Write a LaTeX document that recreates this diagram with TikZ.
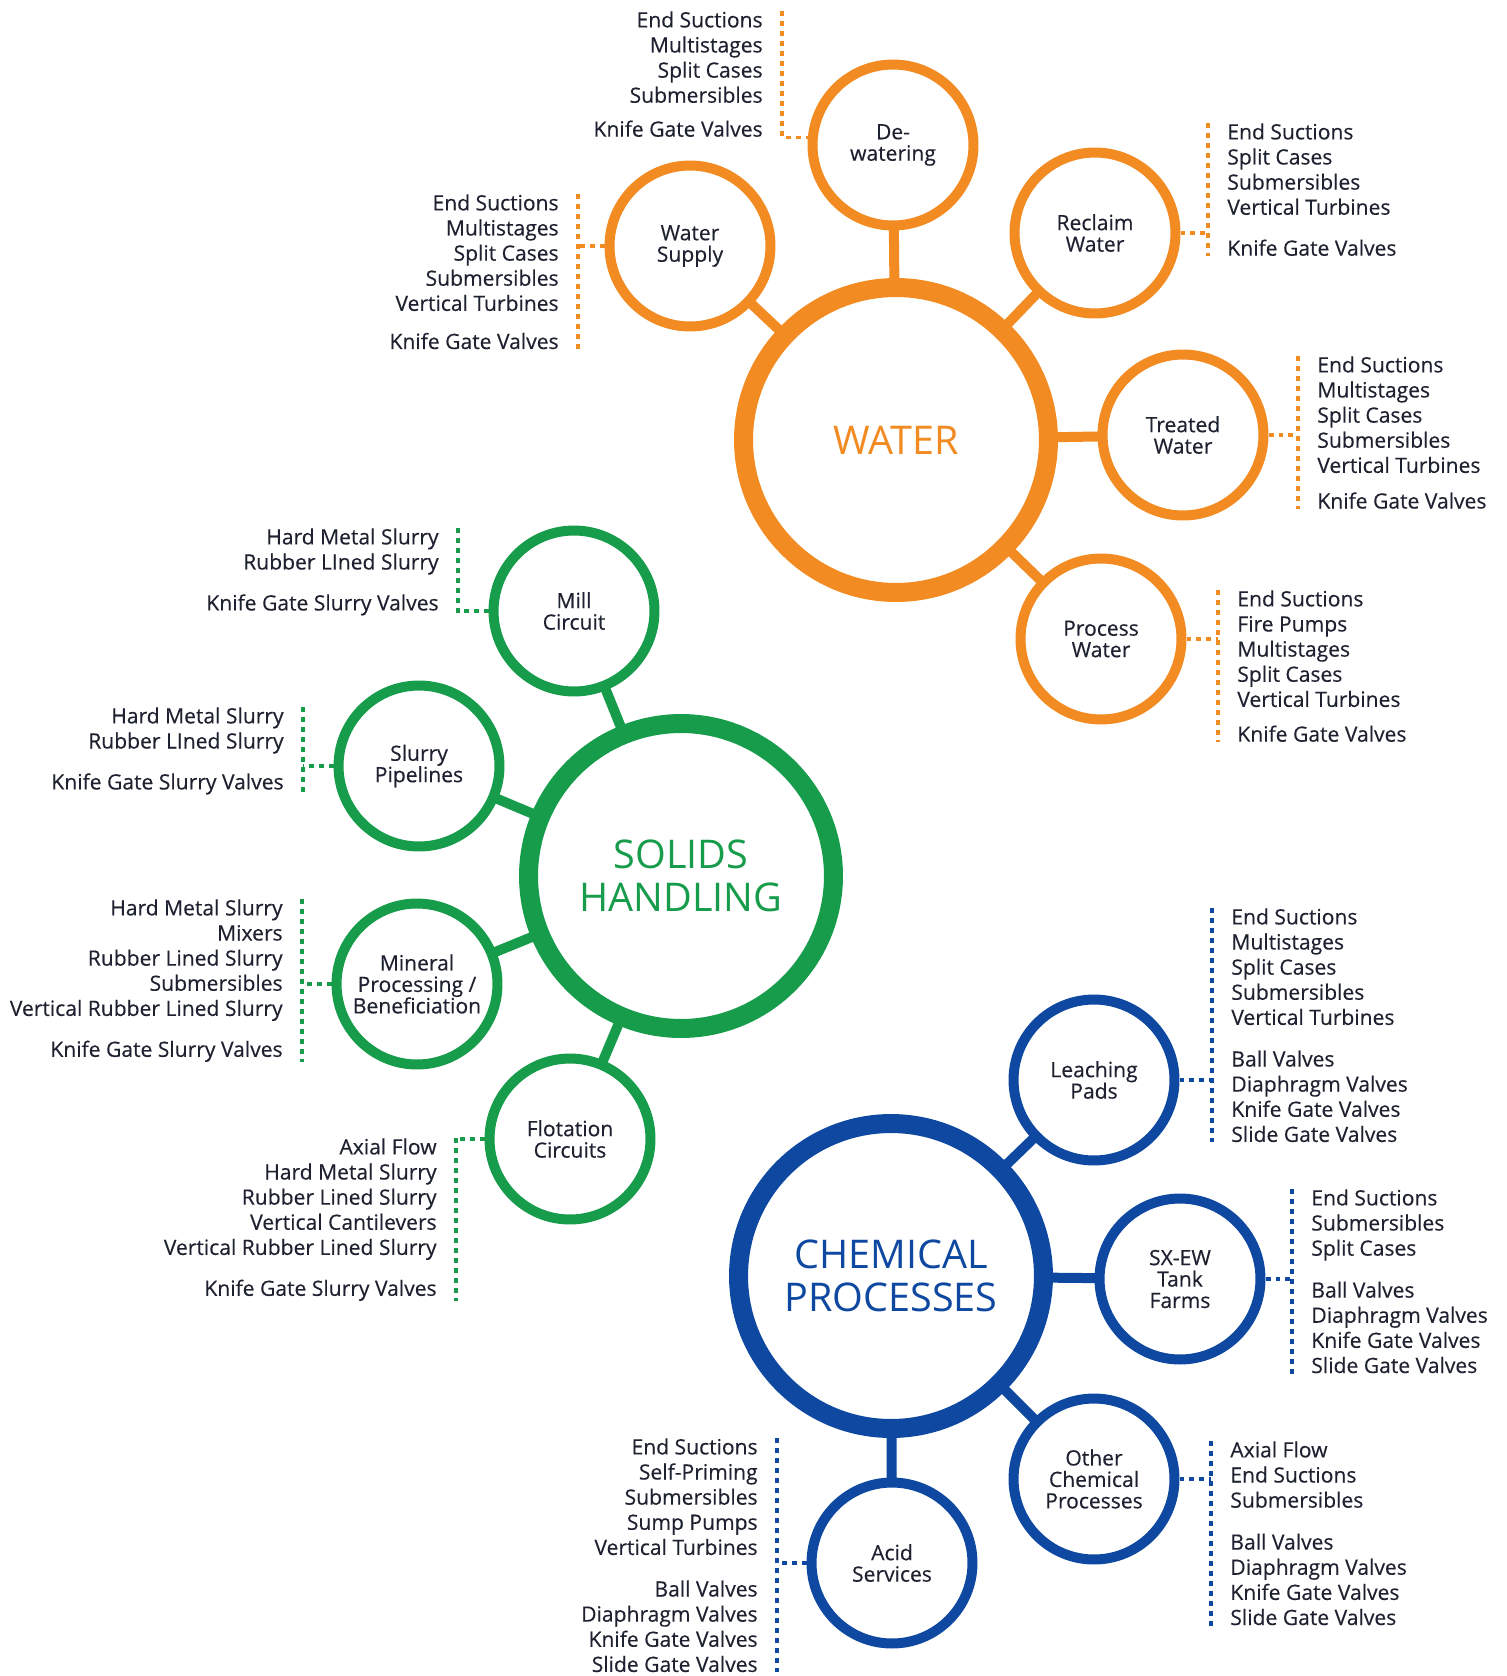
\documentclass[tikz,border=0pt]{standalone}
\usepackage{fontspec}
\setmainfont{Open Sans}
\newfontfamily\itemfont{Open Sans}[FakeBold=0.35]
\usetikzlibrary{calc,backgrounds}
\definecolor{worange}{RGB}{241,139,34}
\definecolor{sgreen}{RGB}{22,156,74}
\definecolor{cblue}{RGB}{14,72,160}
\definecolor{txt}{RGB}{30,34,48}
\begin{document}
\begin{tikzpicture}[x=0.02cm,y=-0.02cm,
    big/.style={circle,draw=#1,line width=0.38cm,minimum size=6.1cm,inner sep=0pt,fill=white,
      text=#1,align=center,font=\fontsize{22.5}{24.4}\selectfont},
    small/.style={circle,draw=#1,line width=0.2cm,minimum size=3.22cm,inner sep=0pt,fill=white,
      text=txt,align=center,font=\itemfont\fontsize{12}{12.2}\selectfont},
    link/.style={draw=#1,line width=0.2cm},
    dots/.style={draw=#1,line width=0.065cm,dash pattern=on 0.1cm off 0.1cm},
    listl/.style={anchor=north west,inner sep=0pt,align=left,text=txt,font=\itemfont\fontsize{12}{14.3}\selectfont},
    listr/.style={anchor=north east,inner sep=0pt,align=right,text=txt,font=\itemfont\fontsize{12}{14.3}\selectfont}]
  \useasboundingbox (0,0) rectangle (1507,1676);

  % water
  \node[big=worange] (water) at (896,440) {WATER};
  \node[small=worange] (dw) at (893,145) {De-\\watering};
  \node[small=worange] (ws) at (690,246) {Water\\Supply};
  \node[small=worange] (rw) at (1095,233) {Reclaim\\Water};
  \node[small=worange] (tw) at (1183,435) {Treated\\Water};
  \node[small=worange] (pw) at (1101,639) {Process\\Water};

  \node[listr] (dwl) at (763,11) {End Suctions\\Multistages\\Split Cases\\Submersibles\\[5pt]Knife Gate Valves};
  \node[listr] (wsl) at (559,194) {End Suctions\\Multistages\\Split Cases\\Submersibles\\Vertical Turbines\\[7.4pt]Knife Gate Valves};
  \node[listl] (rwl) at (1227,123) {End Suctions\\Split Cases\\Submersibles\\Vertical Turbines\\[9pt]Knife Gate Valves};
  \node[listl] (twl) at (1317,356) {End Suctions\\Multistages\\Split Cases\\Submersibles\\Vertical Turbines\\[6pt]Knife Gate Valves};
  \node[listl] (pwl) at (1237,590) {End Suctions\\Fire Pumps\\Multistages\\Split Cases\\Vertical Turbines\\[5.5pt]Knife Gate Valves};

  \draw[dots=worange] ($(dwl.north east)+(19,0)$) -- ($(dwl.south east)+(19,0)$) -- (dwl.south east -| dw.west);
  \draw[dots=worange] ($(wsl.north east)+(19,0)$) coordinate (wsv) -- ($(wsl.south east)+(19,0)$);
  \draw[dots=worange] (ws.west) -- (ws.west -| wsv);
  \draw[dots=worange] ($(rwl.north west)+(-19,0)$) coordinate (rwv) -- ($(rwl.south west)+(-19,0)$);
  \draw[dots=worange] (rw.east) -- (rw.east -| rwv);
  \draw[dots=worange] ($(twl.north west)+(-19,0)$) coordinate (twv) -- ($(twl.south west)+(-19,0)$);
  \draw[dots=worange] (tw.east) -- (tw.east -| twv);
  \draw[dots=worange] ($(pwl.north west)+(-19,0)$) coordinate (pwv) -- ($(pwl.south west)+(-19,0)$);
  \draw[dots=worange] (pw.east) -- (pw.east -| pwv);

  % solids handling
  \node[big=sgreen] (solids) at (681,876) {SOLIDS\\HANDLING};
  \node[small=sgreen] (mc) at (574,611) {Mill\\Circuit};
  \node[small=sgreen] (sp) at (419,766) {Slurry\\Pipelines};
  \node[small=sgreen] (mp) at (417,984) {Mineral\\Processing /\\Beneficiation};
  \node[small=sgreen] (fc) at (570,1139) {Flotation\\Circuits};

  \node[listr] (mcl) at (439,528) {Hard Metal Slurry\\Rubber LIned Slurry\\[9pt]Knife Gate Slurry Valves};
  \node[listr] (spl) at (284,707) {Hard Metal Slurry\\Rubber LIned Slurry\\[9pt]Knife Gate Slurry Valves};
  \node[listr] (mpl) at (283,899) {Hard Metal Slurry\\Mixers\\Rubber Lined Slurry\\Submersibles\\Vertical Rubber Lined Slurry\\[9pt]Knife Gate Slurry Valves};
  \node[listr] (fcl) at (437,1138) {Axial Flow\\Hard Metal Slurry\\Rubber Lined Slurry\\Vertical Cantilevers\\Vertical Rubber Lined Slurry\\[9pt]Knife Gate Slurry Valves};

  \draw[dots=sgreen] ($(mcl.north east)+(19,0)$) coordinate (mcv) -- ($(mcl.south east)+(19,0)$);
  \draw[dots=sgreen] (mc.west) -- (mc.west -| mcv);
  \draw[dots=sgreen] ($(spl.north east)+(19,0)$) coordinate (spv) -- ($(spl.south east)+(19,0)$);
  \draw[dots=sgreen] (sp.west) -- (sp.west -| spv);
  \draw[dots=sgreen] ($(mpl.north east)+(19,0)$) coordinate (mpv) -- ($(mpl.south east)+(19,0)$);
  \draw[dots=sgreen] (mp.west) -- (mp.west -| mpv);
  \draw[dots=sgreen] ($(fcl.north east)+(19,0)$) coordinate (fcv) -- ($(fcl.south east)+(19,0)$);
  \draw[dots=sgreen] (fc.west) -- (fc.west -| fcv);

  % chemical processes
  \node[big=cblue] (chem) at (891,1276) {CHEMICAL\\PROCESSES};
  \node[small=cblue] (lp) at (1094,1080) {Leaching\\Pads};
  \node[small=cblue] (sx) at (1180,1279) {SX-EW\\Tank\\Farms};
  \node[small=cblue] (oc) at (1094,1479) {Other\\Chemical\\Processes};
  \node[small=cblue] (as) at (892,1563) {Acid\\Services};

  \node[listl] (lpl) at (1231,908) {End Suctions\\Multistages\\Split Cases\\Submersibles\\Vertical Turbines\\[9.4pt]Ball Valves\\Diaphragm Valves\\Knife Gate Valves\\Slide Gate Valves};
  \node[listl] (sxl) at (1311,1189) {End Suctions\\Submersibles\\Split Cases\\[9.6pt]Ball Valves\\Diaphragm Valves\\Knife Gate Valves\\Slide Gate Valves};
  \node[listl] (ocl) at (1230,1441) {Axial Flow\\End Suctions\\Submersibles\\[9.6pt]Ball Valves\\Diaphragm Valves\\Knife Gate Valves\\Slide Gate Valves};
  \node[listr] (asl) at (758,1438) {End Suctions\\Self-Priming\\Submersibles\\Sump Pumps\\Vertical Turbines\\[9.4pt]Ball Valves\\Diaphragm Valves\\Knife Gate Valves\\Slide Gate Valves};

  \draw[dots=cblue] ($(lpl.north west)+(-19,0)$) coordinate (lpv) -- ($(lpl.south west)+(-19,0)$);
  \draw[dots=cblue] (lp.east) -- (lp.east -| lpv);
  \draw[dots=cblue] ($(sxl.north west)+(-19,0)$) coordinate (sxv) -- ($(sxl.south west)+(-19,0)$);
  \draw[dots=cblue] (sx.east) -- (sx.east -| sxv);
  \draw[dots=cblue] ($(ocl.north west)+(-19,0)$) coordinate (ocv) -- ($(ocl.south west)+(-19,0)$);
  \draw[dots=cblue] (oc.east) -- (oc.east -| ocv);
  \draw[dots=cblue] ($(asl.north east)+(19,0)$) coordinate (asv) -- ($(asl.south east)+(19,0)$);
  \draw[dots=cblue] (as.west) -- (as.west -| asv);

  % spokes
  \begin{scope}[on background layer]
    \foreach \s in {dw,ws,rw,tw,pw}
      \draw[link=worange] (water.center) -- (\s.center);
    \foreach \s in {mc,sp,mp,fc}
      \draw[link=sgreen] (solids.center) -- (\s.center);
    \foreach \s in {lp,sx,oc,as}
      \draw[link=cblue] (chem.center) -- (\s.center);
  \end{scope}
\end{tikzpicture}
\end{document}
